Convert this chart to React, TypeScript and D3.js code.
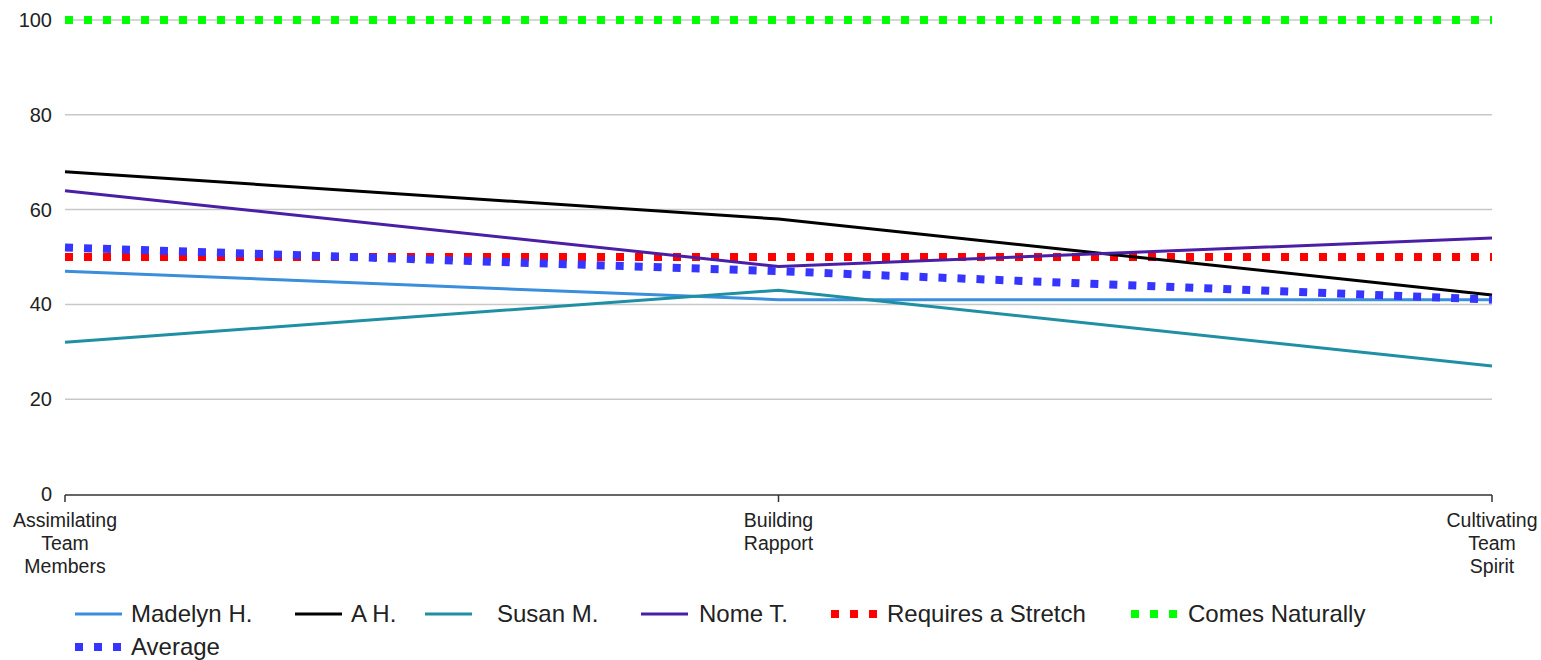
import React from "react";
import * as d3 from "d3";

const categories = [["Assimilating", "Team", "Members"], ["Building", "Rapport"], ["Cultivating", "Team", "Spirit"]];
const madelyn = [47, 41, 41];
const aH = [68, 58, 42];
const susan = [32, 43, 27];
const nome = [64, 48, 54];
const stretch = [50, 50, 50];
const natural = [100, 100, 100];
const average = [52, 47, 41];
const yTicks = [0, 20, 40, 60, 80, 100];

const seriesNames = ["Madelyn H.", "A H.", "Susan M.", "Nome T.", "Requires a Stretch", "Comes Naturally", "Average"];
const seriesColors = ["#3a8edb", "#000000", "#1f8fa3", "#4a1fa6", "#ff0000", "#00ff00", "#3535ff"];

const W = 1541, H = 660;
const left = 65, right = 1492, top = 20, bottom = 494;
const FONT = "'Liberation Sans', Arial, sans-serif";

export default function App() {
  const x = d3.scalePoint<number>().domain([0, 1, 2]).range([left, right]);
  const y = d3.scaleLinear().domain([0, 100]).range([bottom, top]);
  const line = d3.line<number>().x((_, i) => x(i)!).y(d => y(d));

  const series = [
    { data: madelyn, dotted: false },
    { data: aH, dotted: false },
    { data: susan, dotted: false },
    { data: nome, dotted: false },
    { data: stretch, dotted: true },
    { data: natural, dotted: true },
    { data: average, dotted: true },
  ];
  const drawOrder = [4, 5, 0, 1, 2, 3, 6];

  const legendRow1 = [
    { i: 0, lx: 75, tx: 131 },
    { i: 1, lx: 295, tx: 351 },
    { i: 2, lx: 425, tx: 497 },
    { i: 3, lx: 641, tx: 699 },
    { i: 4, lx: 831, tx: 887 },
    { i: 5, lx: 1131, tx: 1188 },
  ];

  return (
    <svg width={W} height={H} style={{ position: "absolute", left: 0, top: 0, background: "#fff" }} fontFamily={FONT}>
      <rect width={W} height={H} fill="#fff" />
      {yTicks.filter(t => t > 0).map(t => (
        <line key={t} x1={left} x2={right} y1={y(t)} y2={y(t)} stroke="#c8c8c8" strokeWidth={1.5} />
      ))}
      {yTicks.map(t => (
        <text key={t} x={52} y={y(t) + 7} textAnchor="end" fontSize={20} fill="#222">{t}</text>
      ))}
      <line x1={left} x2={right} y1={bottom + 1} y2={bottom + 1} stroke="#333" strokeWidth={1.5} />
      {categories.map((c, i) => (
        <g key={i}>
          <line x1={x(i)} x2={x(i)} y1={bottom + 1} y2={bottom + 8} stroke="#333" strokeWidth={1.5} />
          {c.map((w, j) => (
            <text key={j} x={x(i)} y={527 + j * 23} textAnchor="middle" fontSize={19.5} fill="#222">{w}</text>
          ))}
        </g>
      ))}
      {drawOrder.map(k => {
        const s = series[k];
        return (
          <path key={k} d={line(s.data)!} fill="none" stroke={seriesColors[k]}
            strokeWidth={s.dotted ? 8 : 3} strokeDasharray={s.dotted ? "8 11" : undefined} />
        );
      })}
      {legendRow1.map(({ i, lx, tx }) => (
        <g key={i}>
          <line x1={lx} x2={lx + 47} y1={614} y2={614} stroke={seriesColors[i]}
            strokeWidth={series[i].dotted ? 8 : 3} strokeDasharray={series[i].dotted ? "8 11" : undefined} />
          <text x={tx} y={622} fontSize={24} fill="#222">{seriesNames[i]}</text>
        </g>
      ))}
      <g>
        <line x1={75} x2={122} y1={647} y2={647} stroke={seriesColors[6]} strokeWidth={8} strokeDasharray="8 11" />
        <text x={131} y={655} fontSize={24} fill="#222">{seriesNames[6]}</text>
      </g>
    </svg>
  );
}
